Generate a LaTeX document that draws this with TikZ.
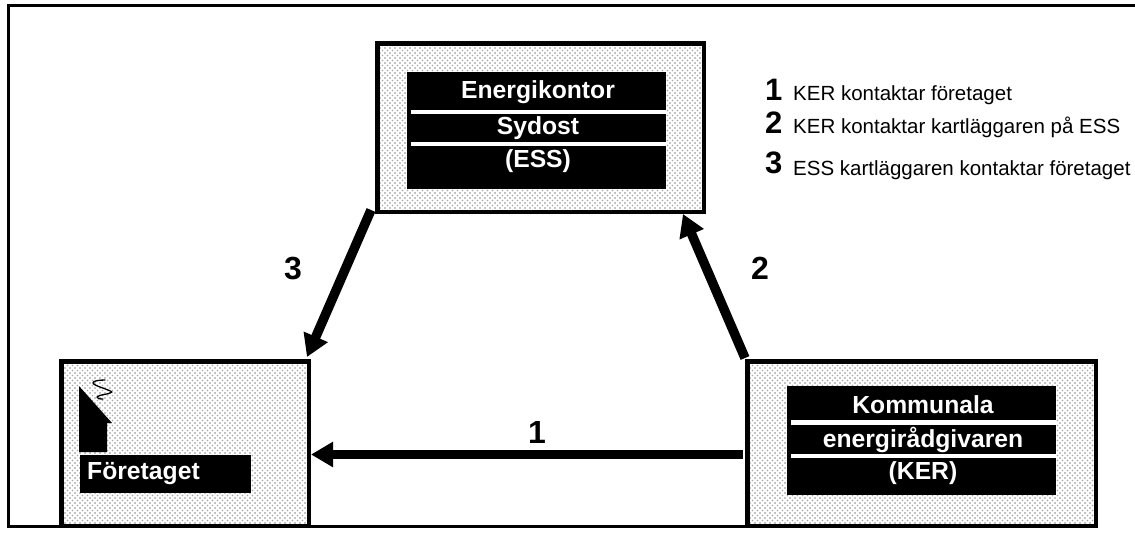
\documentclass[tikz,border=0pt]{standalone}
\usepackage{fontspec}
\setmainfont{Liberation Sans}
\usetikzlibrary{arrows.meta,calc,patterns.meta}
\tikzset{
  x=1pt,y=-1pt,
  panel/.style={draw=black,line width=4.5pt,
    preaction={fill=white},
    preaction={pattern={Dots[distance=5pt,radius=0.8pt,xshift=2.5pt,yshift=2.5pt]},pattern color=black!35},
    preaction={pattern={Dots[distance=5pt,radius=0.7pt]},pattern color=black},
    minimum width=#1,anchor=north west,inner sep=0pt},
  plate/.style={fill=black,inner sep=0pt,anchor=north west},
  rule/.style={fill=white,inner sep=0pt,anchor=north west},
  wtext/.style={text=white,font=\bfseries\fontsize{24.7}{24.7}\selectfont,inner sep=0pt,anchor=base},
  num/.style={font=\bfseries\fontsize{32}{32}\selectfont,inner sep=0pt,anchor=base},
  lnum/.style={font=\bfseries\fontsize{31}{31}\selectfont,inner sep=0pt,anchor=base west},
  ltext/.style={font=\fontsize{20.5}{20.5}\selectfont,inner sep=0pt,anchor=base west},
  flow/.style={line width=8.5pt,-{Triangle[length=22pt,width=24pt]}},
  flowd/.style={line width=9.5pt,-{Triangle[length=22pt,width=25pt]}}
}
\begin{document}
\begin{tikzpicture}
\useasboundingbox (0,0) rectangle (1135,558);
\draw[black,line width=3pt] (1135,5.5) -- (8.5,5.5) -- (8.5,526.5) -- (1098,526.5);
% panels
\node[panel=326.5pt,minimum height=168.5pt] (ess) at (375,41) {};
\node[panel=247.5pt,minimum height=164.5pt] (for) at (59,359) {};
\node[panel=348.5pt,minimum height=164.5pt] (ker) at (745,359) {};
% ESS plate
\node[plate,minimum width=259pt,minimum height=117pt] (essp) at (407,72) {};
\node[rule,minimum width=255pt,minimum height=4pt] (essr1) at (411,110) {};
\node[rule,minimum width=255pt,minimum height=4pt] (essr2) at (411,142) {};
\node[wtext] (e1) at (538,98.5) {Energikontor};
\node[wtext] (e2) at (538,134.5) {Sydost};
\node[wtext] (e3) at (538,167.5) {(ESS)};
% KER plate
\node[plate,minimum width=269pt,minimum height=109pt] (kerp) at (787,386) {};
\node[rule,minimum width=265pt,minimum height=5pt] (kerr1) at (791,420) {};
\node[rule,minimum width=265pt,minimum height=4pt] (kerr2) at (791,454) {};
\node[wtext] (k1) at (923,413) {Kommunala};
\node[wtext] (k2) at (923,447) {energirådgivaren};
\node[wtext] (k3) at (923,479) {(KER)};
% Foretaget
\node[plate,minimum width=171pt,minimum height=38pt] (forp) at (80,455) {};
\node[wtext,anchor=base west] (f1) at (87,479) {Företaget};
\fill[black] (79,386) -- (112,423) -- (107,423) -- (107,452) -- (79,452) -- cycle;
\draw[black,line width=1.3pt,line join=round,line cap=round] (105,380) .. controls (98,380) and (93,381) .. (93,383) .. controls (94,386) and (108,389) .. (112,392) .. controls (108,395) and (100,394) .. (97,397) .. controls (97,399) and (100,399) .. (103,399);
% arrows
\draw[flow] ($(ker.west)+(-2,11)$) -- ($(for.east)+(0,11)$);
\draw[flowd] ($(ker.north west)+(0,-1)$) -- ($(ess.south east)+(-23,0)$);
\draw[flowd] ($(ess.south west)+(-4,-4)$) -- ($(for.north east)+(-4,-2)$);
% labels
\node[num] (n1) at (537,443) {1};
\node[num] (n2) at (760,279) {2};
\node[num] (n3) at (293,279) {3};
% legend
\node[lnum] (l1) at (765,100) {1};
\node[lnum] (l2) at (765,133) {2};
\node[lnum] (l3) at (765,173) {3};
\node[ltext] (t1) at (793,100.5) {KER kontaktar företaget};
\node[ltext] (t2) at (793,133) {KER kontaktar kartläggaren på ESS};
\node[ltext] (t3) at (793,175) {ESS kartläggaren kontaktar företaget};
\end{tikzpicture}
\end{document}
